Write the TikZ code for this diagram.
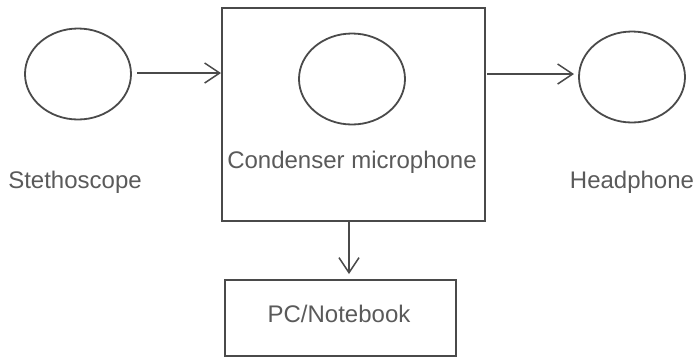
\documentclass[tikz,border=0pt]{standalone}
\usepackage{fontspec}
\setmainfont{Liberation Sans}
\usetikzlibrary{shapes.geometric,arrows.meta}
\definecolor{ink}{HTML}{4A4A4A}
\definecolor{txt}{HTML}{5A5A5A}
\begin{document}
\begin{tikzpicture}[x=1pt,y=-1pt,
  oval/.style={draw=ink,line width=1.8pt,ellipse,minimum width=106pt,minimum height=91pt,inner sep=0pt},
  frame/.style={draw=ink,line width=2pt,rectangle,inner sep=0pt,anchor=north west},
  lbl/.style={text=txt,font=\fontsize{24}{27}\selectfont,inner sep=0pt},
  conn/.style={draw=ink,line width=1.5pt,-{Straight Barb[length=15pt,width=20pt,line width=1.5pt]}}]
\useasboundingbox (0,0) rectangle (697,357);
\node[frame,minimum width=263pt,minimum height=213pt] (mic) at (221,7) {};
\node[frame,minimum width=231pt,minimum height=76pt] (pc) at (224,279) {};
\node[oval] (steth) at (78,74) {};
\node[oval] (micov) at (352,79) {};
\node[oval] (head) at (632,77) {};
\node[lbl] (tsteth) at (75,182) {Stethoscope};
\node[lbl] (tmic) at (352,162) {Condenser microphone};
\node[lbl] (thead) at (632,182) {Headphone};
\node[lbl] (tpc) at (339,314) {PC/Notebook};
\coordinate (a1) at (137,73);
\coordinate (a2) at (221,73);
\coordinate (b1) at (487,74);
\coordinate (b2) at (574,74);
\coordinate (c1) at (349,220);
\coordinate (c2) at (349,274);
\draw[conn] (a1) -- (a2);
\draw[conn] (b1) -- (b2);
\draw[conn] (c1) -- (c2);
\end{tikzpicture}
\end{document}
